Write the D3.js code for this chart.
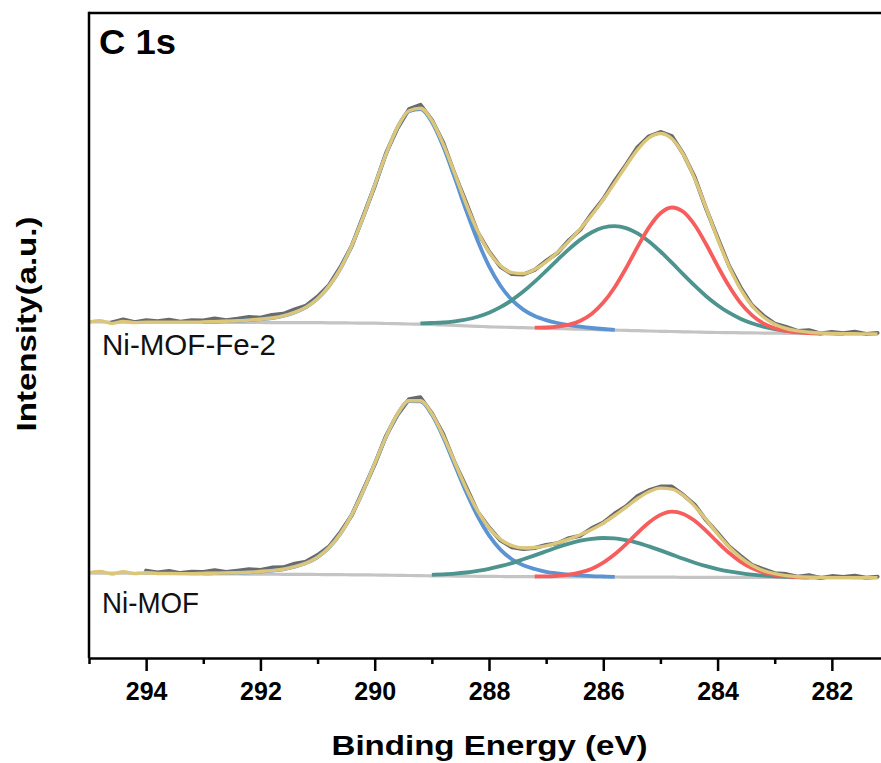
<!DOCTYPE html>
<html>
<head>
<meta charset="utf-8">
<script src="https://cdn.jsdelivr.net/npm/d3@7"></script>
<style>
  html, body { margin: 0; padding: 0; background: #fff; }
  svg { display: block; }
</style>
</head>
<body>
<svg id="chart" width="881" height="763"></svg>
<script>
// ---------------- DATA ----------------
const energies = [295.0,294.8,294.6,294.4,294.2,294.0,293.8,293.6,293.4,293.2,
  293.0,292.8,292.6,292.4,292.2,292.0,291.8,291.6,291.4,291.2,
  291.0,290.8,290.6,290.4,290.2,290.0,289.8,289.6,289.4,289.2,
  289.0,288.8,288.6,288.4,288.2,288.0,287.8,287.6,287.4,287.2,
  287.0,286.8,286.6,286.4,286.2,286.0,285.8,285.6,285.4,285.2,
  285.0,284.8,284.6,284.4,284.2,284.0,283.8,283.6,283.4,283.2,
  283.0,282.8,282.6,282.4,282.2,282.0,281.8,281.6,281.4,281.2];

const xTickValues = [294, 292, 290, 288, 286, 284, 282];
const xMinorTickValues = [295, 293, 291, 289, 287, 285, 283, 281];
const sampleLabels = ["Ni-MOF-Fe-2", "Ni-MOF"];
const panelTitle = "C 1s";
const xTitle = "Binding Energy (eV)";
const yTitle = "Intensity(a.u.)";

// Ni-MOF-Fe-2 (offset spectrum)
const fe2Background = [336.0,336.0,335.9,335.9,335.9,335.8,335.8,335.8,335.7,335.7,
  335.6,335.6,335.6,335.5,335.5,335.5,335.4,335.4,335.4,335.3,
  335.3,335.2,335.1,335.0,334.9,334.8,334.5,334.3,334.0,333.8,
  333.5,333.0,332.6,332.1,331.7,331.2,330.9,330.6,330.3,330.0,
  329.7,329.4,329.1,328.8,328.5,328.2,327.9,327.6,327.3,327.0,
  326.7,326.5,326.2,326.0,325.7,325.5,325.4,325.2,325.1,324.9,
  324.8,324.7,324.6,324.5,324.4,324.3,324.2,324.2,324.1,324.0];
const fe2Envelope = [336.0,337.4,334.6,336.6,335.4,335.8,335.8,335.8,335.7,335.7,
  336.1,336.4,336.8,337.2,337.9,338.8,340.0,342.2,345.6,350.9,
  359.3,371.9,389.4,412.7,441.1,472.8,504.2,530.9,547.3,549.7,
  537.5,513.9,484.4,454.0,427.1,406.0,392.2,385.4,384.5,388.6,
  396.1,405.7,416.9,429.4,443.1,458.5,475.1,492.3,508.4,520.2,
  524.5,519.3,503.6,479.3,449.8,419.4,391.8,369.2,352.5,341.0,
  333.8,329.5,327.1,325.8,325.0,324.6,324.3,324.2,324.1,324.0];
const fe2RawFrom = 294.6;
const fe2Raw = [335.6,338.6,335.9,337.8,336.8,338.3,336.2,337.7,
  337.6,339.4,337.8,339.2,340.9,340.3,343.0,344.2,348.6,352.4,
  361.3,372.9,390.9,412.2,442.1,471.8,505.2,529.9,548.8,553.2,
  538.0,515.4,483.9,455.5,426.1,406.5,391.2,383.9,383.5,388.1,
  397.1,405.2,417.9,428.4,444.6,459.0,477.1,493.3,510.9,521.7,
  526.0,521.8,504.1,480.8,449.3,420.4,392.3,370.7,353.0,342.5,
  334.3,331.0,327.1,327.8,324.5,326.1,324.8,326.2,324.1,325.0];
const fe2BlueFrom = 293.0;   // O-C=O component, height above background
const fe2Blue = [0.5,0.8,1.2,1.7,2.4,3.3,4.6,6.8,10.2,15.6,
  24.0,36.7,54.3,77.7,106.2,138.0,169.6,196.3,212.8,215.0,
  202.5,178.4,147.7,115.5,85.8,60.7,41.4,27.5,18.1,12.0,
  8.2,5.6,3.8,2.5,1.5,0.8,0.3];
const fe2TealFrom = 289.2;   // C-O component
const fe2Teal = [0.9,1.5,2.5,4.1,6.4,9.6,14.1,
  19.9,27.3,36.1,46.3,57.4,68.8,79.8,89.6,97.3,102.3,
  104.0,102.3,97.3,89.6,79.8,68.8,57.4,46.3,36.1,27.3,
  19.9,14.1,9.6,6.4,4.1,2.5,1.5,0.9,0.5,0.3,0.1];
const fe2RedFrom = 287.2;    // C-C component
const fe2Red = [0.3,0.8,1.9,4.2,8.5,15.8,27.2,42.9,62.4,83.8,
  103.6,118.0,124.0,120.0,107.0,88.0,66.6,46.5,29.9,17.8,
  9.7,4.9,2.3,1.0,0.4,0.1];

// Ni-MOF
const niBackground = [85.0,84.9,84.8,84.8,84.7,84.6,84.5,84.5,84.4,84.3,
  84.2,84.2,84.1,84.0,83.9,83.9,83.8,83.7,83.6,83.6,
  83.5,83.4,83.3,83.2,83.1,83.0,82.8,82.7,82.5,82.3,
  82.2,82.1,81.9,81.8,81.7,81.6,81.5,81.4,81.4,81.3,
  81.2,81.2,81.1,81.1,81.0,81.0,81.0,80.9,80.9,80.8,
  80.8,80.8,80.7,80.7,80.6,80.6,80.6,80.6,80.5,80.5,
  80.5,80.5,80.4,80.4,80.4,80.4,80.4,80.3,80.3,80.3];
const niEnvelope = [85.0,86.5,84.0,86.2,84.4,85.4,84.5,84.5,84.4,84.3,
  84.6,84.8,85.0,85.3,85.7,86.5,87.4,88.7,91.3,94.9,
  100.9,110.3,124.3,143.4,167.3,194.5,221.4,244.1,257.2,257.2,
  244.4,222.2,195.8,169.7,147.3,130.1,118.7,112.3,110.0,110.5,
  112.1,115.2,118.9,123.3,128.4,134.9,142.5,150.8,159.5,166.3,
  169.9,168.9,162.6,151.8,138.3,124.1,111.2,100.6,92.7,87.4,
  84.3,82.4,81.3,80.8,80.5,80.4,80.4,80.3,80.3,80.3];
const niRawFrom = 294.0;
const niRaw = [87.4,85.5,87.0,84.9,86.3,
  86.1,87.8,86.0,87.3,88.7,88.0,90.4,90.7,94.3,96.4,
  102.9,111.3,125.8,142.9,168.3,193.5,222.4,243.1,258.7,260.7,
  244.9,223.7,195.3,171.2,146.3,130.6,117.7,110.8,109.0,110.0,
  113.1,114.7,119.9,122.3,129.9,135.4,144.5,151.8,162.0,167.8,
  171.4,171.4,163.1,153.3,137.8,125.1,111.7,102.1,93.2,88.9,
  84.8,83.9,81.3,82.8,80.0,81.9,80.9,82.3,80.3,81.3];
const niBlueFrom = 293.0;
const niBlue = [0.4,0.6,0.9,1.3,1.8,2.6,3.6,5.0,7.7,11.3,
  17.4,26.9,41.0,60.2,84.2,111.4,138.5,161.2,174.3,174.3,
  161.2,138.5,111.4,84.2,60.2,41.0,26.9,17.4,11.3,7.7,
  5.0,3.4,2.3,1.5,0.9,0.5,0.2];
const niTealFrom = 289.0;
const niTeal = [1.0,1.6,2.5,3.7,5.4,
  7.5,10.3,13.5,17.3,21.3,25.5,29.6,33.3,36.2,38.2,
  39.0,38.6,36.9,34.3,30.8,26.8,22.6,18.5,14.6,11.2,
  8.3,6.0,4.2,2.8,1.8,1.2,0.7,0.4,0.2,0.1];
const niRedFrom = 287.2;
const niRed = [0.2,0.4,1.0,2.2,4.5,8.3,14.4,22.7,33.0,44.3,
  54.7,62.3,65.5,63.4,56.5,46.5,35.2,24.6,15.8,9.4,
  5.1,2.6,1.2,0.5,0.2];

// ---------------- STYLE ----------------
const FONT = "'Liberation Sans', Arial, Helvetica, sans-serif";
const COLORS = {
  background: "#c4c4c4",
  raw: "#6a6a6a",
  blue: "#5b93d3",
  teal: "#4e948e",
  red: "#f65d5c",
  envelope: "#dcc679"
};

// ---------------- CHART ----------------
const W = 881, H = 763;
const plotLeft = 89, plotRight = 889, plotTop = 13, plotBottom = 658;

const x = d3.scaleLinear().domain([295, 281]).range([plotLeft, plotRight]);
const y = d3.scaleLinear().domain([0, 645]).range([plotBottom, plotTop]);

const svg = d3.select("#chart");
svg.append("rect").attr("width", W).attr("height", H).attr("fill", "#fff");

svg.append("defs").append("clipPath").attr("id", "plotClip")
  .append("rect").attr("x", plotLeft).attr("y", plotTop)
  .attr("width", plotRight - plotLeft).attr("height", plotBottom - plotTop);

const plot = svg.append("g").attr("clip-path", "url(#plotClip)");

function fullSeries(values) {
  return values.map((v, i) => ({ e: energies[i], v: v }));
}
function partialSeries(values, fromBE) {
  const start = energies.indexOf(fromBE);
  return values.map((v, j) => ({ e: energies[start + j], v: v }));
}
function componentSeries(heights, fromBE, bg) {
  const start = energies.indexOf(fromBE);
  return heights.map((h, j) => ({ e: energies[start + j], v: bg[start + j] + h }));
}

const smoothLine = d3.line().x(d => x(d.e)).y(d => y(d.v)).curve(d3.curveMonotoneX);
const rawLine = d3.line().x(d => x(d.e)).y(d => y(d.v)).curve(d3.curveLinear);

function drawSpectrum(bg, raw, rawFrom, blue, blueFrom, teal, tealFrom, red, redFrom, env) {
  const g = plot.append("g");
  g.append("path").datum(fullSeries(bg)).attr("d", smoothLine)
    .attr("fill", "none").attr("stroke", COLORS.background).attr("stroke-width", 3.2);
  g.append("path").datum(partialSeries(raw, rawFrom)).attr("d", rawLine)
    .attr("fill", "none").attr("stroke", COLORS.raw).attr("stroke-width", 4)
    .attr("stroke-linejoin", "round").attr("stroke-linecap", "round");
  g.append("path").datum(componentSeries(blue, blueFrom, bg)).attr("d", smoothLine)
    .attr("fill", "none").attr("stroke", COLORS.blue).attr("stroke-width", 3.8);
  g.append("path").datum(componentSeries(teal, tealFrom, bg)).attr("d", smoothLine)
    .attr("fill", "none").attr("stroke", COLORS.teal).attr("stroke-width", 3.8);
  g.append("path").datum(componentSeries(red, redFrom, bg)).attr("d", smoothLine)
    .attr("fill", "none").attr("stroke", COLORS.red).attr("stroke-width", 3.8);
  g.append("path").datum(fullSeries(env)).attr("d", smoothLine)
    .attr("fill", "none").attr("stroke", COLORS.envelope).attr("stroke-width", 3.4);
}

drawSpectrum(fe2Background, fe2Raw, fe2RawFrom, fe2Blue, fe2BlueFrom,
  fe2Teal, fe2TealFrom, fe2Red, fe2RedFrom, fe2Envelope);
drawSpectrum(niBackground, niRaw, niRawFrom, niBlue, niBlueFrom,
  niTeal, niTealFrom, niRed, niRedFrom, niEnvelope);

// frame (left and top)
svg.append("line").attr("x1", plotLeft).attr("x2", plotLeft).attr("y1", plotTop - 1.25).attr("y2", plotBottom)
  .attr("stroke", "#000").attr("stroke-width", 2.5);
svg.append("line").attr("x1", plotLeft).attr("x2", plotRight).attr("y1", plotTop).attr("y2", plotTop)
  .attr("stroke", "#000").attr("stroke-width", 2.5);

// x axis (major)
const xAxis = d3.axisBottom(x).tickValues(xTickValues).tickSize(13).tickPadding(11)
  .tickSizeOuter(0).tickFormat(d3.format("d"));
const gx = svg.append("g").attr("transform", `translate(0,${plotBottom})`).call(xAxis);
gx.attr("font-family", FONT).attr("font-size", 25).attr("font-weight", "bold");
gx.select(".domain").attr("stroke", "#000").attr("stroke-width", 2.5);
gx.selectAll(".tick line").attr("stroke", "#000").attr("stroke-width", 2.5);
gx.selectAll(".tick text").attr("fill", "#000");

// x axis (minor)
const xMinor = d3.axisBottom(x).tickValues(xMinorTickValues).tickSize(6).tickSizeOuter(0).tickFormat("");
const gxm = svg.append("g").attr("transform", `translate(0,${plotBottom})`).call(xMinor);
gxm.select(".domain").remove();
gxm.selectAll(".tick line").attr("stroke", "#000").attr("stroke-width", 2.5);

// titles
svg.append("text").attr("x", 489.5).attr("y", 755).attr("text-anchor", "middle")
  .attr("font-family", FONT).attr("font-weight", "bold").attr("font-size", 28)
  .attr("textLength", 316).attr("lengthAdjust", "spacingAndGlyphs")
  .text(xTitle);

svg.append("text").attr("transform", "translate(36,324) rotate(-90)").attr("text-anchor", "middle")
  .attr("font-family", FONT).attr("font-weight", "bold").attr("font-size", 27)
  .attr("textLength", 215).attr("lengthAdjust", "spacingAndGlyphs")
  .text(yTitle);

svg.append("text").attr("x", 99).attr("y", 54)
  .attr("font-family", FONT).attr("font-weight", "bold").attr("font-size", 35)
  .attr("textLength", 77).attr("lengthAdjust", "spacingAndGlyphs")
  .text(panelTitle);

const labelY = [355, 613];
const labelLen = [174, 97];
sampleLabels.forEach((t, i) => {
  svg.append("text").attr("x", 102).attr("y", labelY[i])
    .attr("font-family", FONT).attr("font-size", 29)
    .attr("textLength", labelLen[i]).attr("lengthAdjust", "spacingAndGlyphs")
    .attr("fill", "#111")
    .text(t);
});
</script>
</body>
</html>
